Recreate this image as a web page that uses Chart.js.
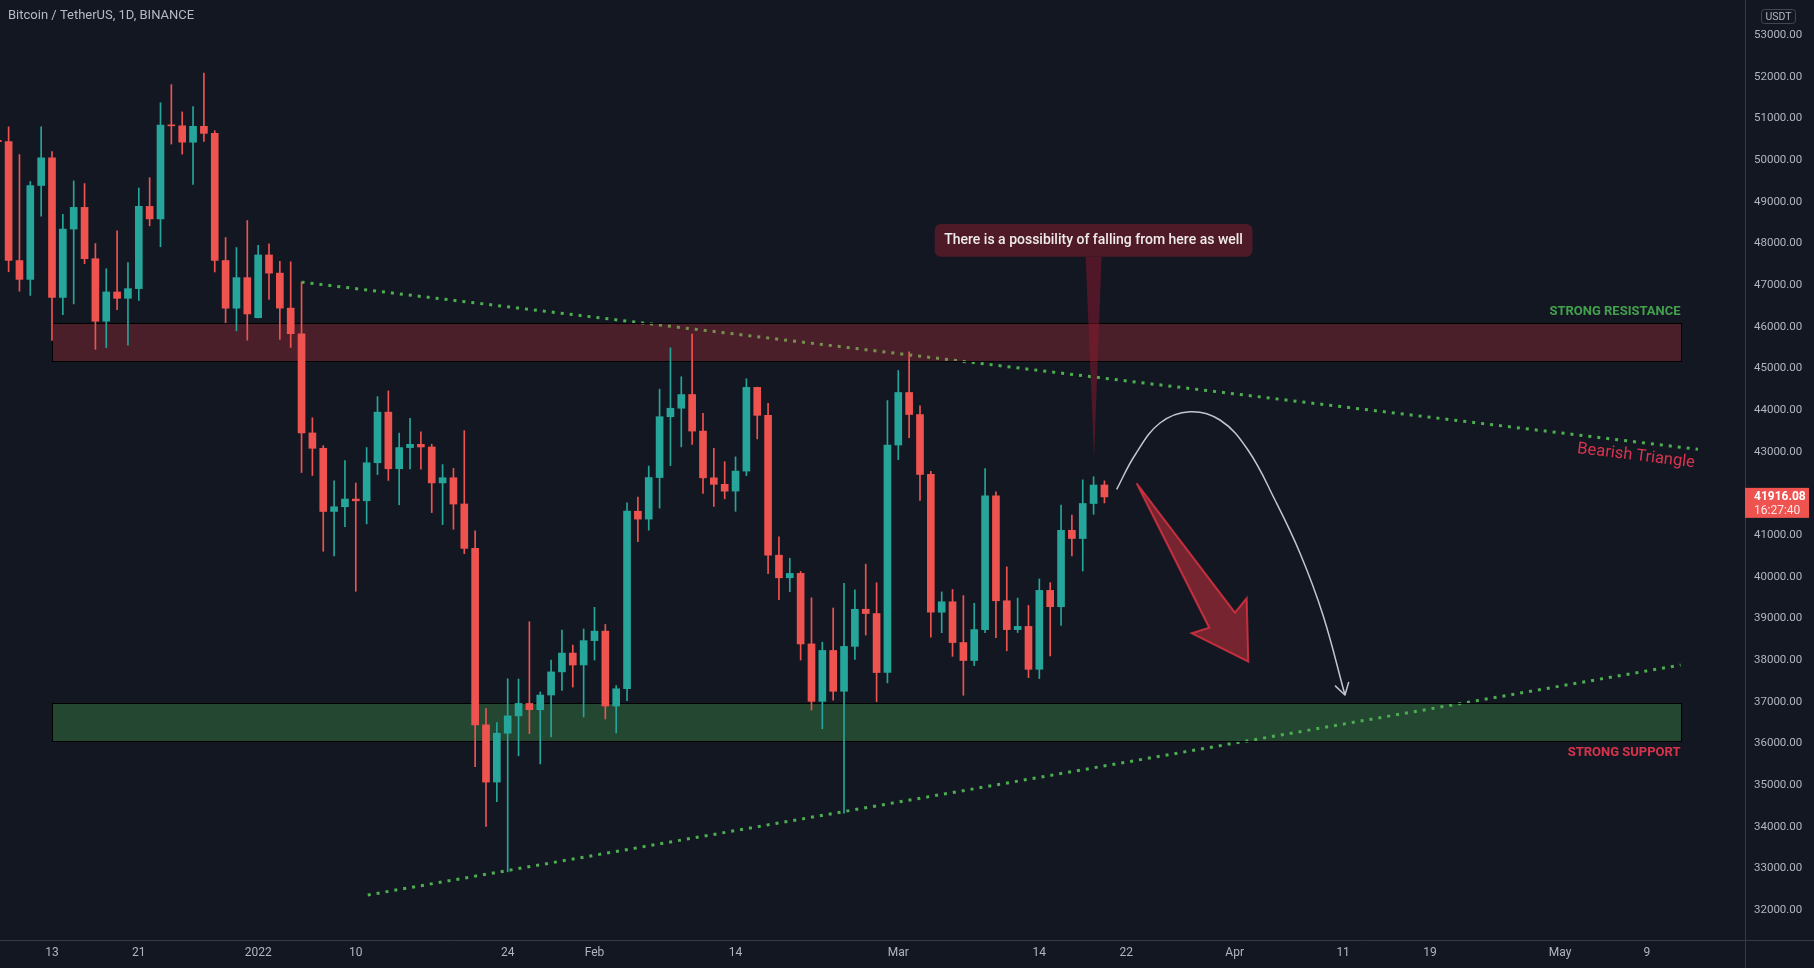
<!DOCTYPE html>
<html>
<head>
<meta charset="utf-8">
<script src="https://cdn.jsdelivr.net/npm/chart.js@4.4.1/dist/chart.umd.min.js"></script>
<style>
html,body{margin:0;padding:0;background:#131722;overflow:hidden;}
#wrap{width:1814px;height:968px;position:relative;}
canvas{display:block;}
</style>
</head>
<body>
<div id="wrap"><canvas id="c"></canvas></div>
<script>
// ---- Data (BTC/USDT daily) ----
const dates = ['2021-12-08','2021-12-09','2021-12-10','2021-12-11','2021-12-12','2021-12-13','2021-12-14','2021-12-15','2021-12-16','2021-12-17','2021-12-18','2021-12-19','2021-12-20','2021-12-21','2021-12-22','2021-12-23','2021-12-24','2021-12-25','2021-12-26','2021-12-27','2021-12-28','2021-12-29','2021-12-30','2021-12-31',
'2022-01-01','2022-01-02','2022-01-03','2022-01-04','2022-01-05','2022-01-06','2022-01-07','2022-01-08','2022-01-09','2022-01-10','2022-01-11','2022-01-12','2022-01-13','2022-01-14','2022-01-15','2022-01-16','2022-01-17','2022-01-18','2022-01-19','2022-01-20','2022-01-21','2022-01-22','2022-01-23','2022-01-24','2022-01-25','2022-01-26','2022-01-27','2022-01-28','2022-01-29','2022-01-30','2022-01-31',
'2022-02-01','2022-02-02','2022-02-03','2022-02-04','2022-02-05','2022-02-06','2022-02-07','2022-02-08','2022-02-09','2022-02-10','2022-02-11','2022-02-12','2022-02-13','2022-02-14','2022-02-15','2022-02-16','2022-02-17','2022-02-18','2022-02-19','2022-02-20','2022-02-21','2022-02-22','2022-02-23','2022-02-24','2022-02-25','2022-02-26','2022-02-27','2022-02-28',
'2022-03-01','2022-03-02','2022-03-03','2022-03-04','2022-03-05','2022-03-06','2022-03-07','2022-03-08','2022-03-09','2022-03-10','2022-03-11','2022-03-12','2022-03-13','2022-03-14','2022-03-15','2022-03-16','2022-03-17','2022-03-18','2022-03-19','2022-03-20'];
const opens = [50471,50441,47588,47136,49389,50053,46702,48343,48864,47632,46131,46834,46681,46914,48887,48588,50838,50821,50428,50809,50640,47588,46444,47178,
46217,47722,47286,46446,45832,43451,43082,41566,41679,41864,41822,42735,43949,42592,43099,43177,43113,42251,42375,41745,40680,36445,35071,36244,36660,36958,36808,37161,37716,38167,37882,
38466,38694,36896,37311,41571,41382,42380,43839,44043,44373,43495,42373,42217,42054,42535,44544,43873,40516,39974,40080,38387,37008,38230,37250,38328,39219,39116,37700,
43160,44421,43892,42455,39148,39398,38420,37989,38731,41941,39423,38730,38807,37778,39672,39280,41114,40917,41757,42201];
const highs = [51936,50797,50131,49485,50797,50205,48700,49500,49436,47995,47392,48300,47537,49328,49576,51375,51810,51156,51281,52088,50704,48140,47900,48548,
47954,47990,47570,47557,47070,43816,43145,42300,42786,42248,43100,44322,44459,43447,43800,43478,43180,42691,42600,43505,41100,36836,36499,37550,37545,38919,37234,38000,38720,38359,38744,
39265,38855,37387,41772,41913,42656,44500,45492,44799,45821,43920,43079,42760,42876,44751,44549,44164,40959,40444,40125,39494,38429,39249,39843,39683,40300,39855,44225,
44949,45400,44102,42527,39634,39693,39547,39362,42594,42039,40236,39486,39310,39947,39856,41718,41478,42325,42400,42300];
const lows = [48600,47320,46852,46751,48650,45672,46290,46547,47511,45456,45500,46406,45558,46630,48421,47920,50384,50142,49412,50449,47313,46096,45900,45678,
46208,46654,45696,45502,42500,42430,40610,40501,41200,39650,41268,42451,42311,41727,42588,42581,41540,41250,41138,40553,35440,34008,34601,32917,35701,36234,35507,36155,37268,37351,36633,
38000,36586,36250,37026,40843,41116,41645,42666,43117,43174,42000,41688,41870,41570,42427,43307,40073,39450,39639,38000,36800,36350,37036,34322,38014,38600,37000,37450,
42809,43335,41832,38550,38656,38088,37155,37867,38657,38539,38223,38660,37578,37555,38098,38828,40500,40135,41499,41770];
const closes = [50441,47588,47136,49389,50053,46702,48343,48864,47632,46131,46834,46681,46914,48889,48588,50838,50821,50429,50809,50640,47588,46444,47178,46306,
47722,47286,46446,45832,43451,43082,41566,41679,41864,41822,42735,43949,42591,43099,43177,43113,42251,42375,41744,40680,36445,35071,36244,36660,36958,36809,37160,37716,38166,37881,38466,
38694,36896,37311,41574,41382,42380,43840,44043,44372,43495,42373,42217,42053,42535,44544,43873,40515,39974,40079,38386,37008,38230,37250,38327,39219,39116,37700,43160,
44421,43893,42454,39148,39398,38420,37989,38731,41941,39423,38730,38807,37777,39671,39280,41114,40917,41757,42201,41916];

const tickDates  = ['2021-12-13','2021-12-21','2022-01-01','2022-01-10','2022-01-24','2022-02-01','2022-02-14','2022-03-01','2022-03-14','2022-03-22','2022-04-01','2022-04-11','2022-04-19','2022-05-01','2022-05-09'];
const tickLabels = ['13','21','2022','10','24','Feb','14','Mar','14','22','Apr','11','19','May','9'];
const priceTicks = [32000,33000,34000,35000,36000,37000,38000,39000,40000,41000,42000,43000,44000,45000,46000,47000,48000,49000,50000,51000,52000,53000];

const lastPrice = 41916.08;
const countdown = '16:27:40';
const titleText = 'Bitcoin / TetherUS, 1D, BINANCE';
const currencyText = 'USDT';

// Drawings (in day offsets from 2021-12-13 and prices)
const resistanceZone = {from: 0, to: 150.1, low: 45184, high: 46082, label: 'STRONG RESISTANCE'};
const supportZone    = {from: 0, to: 150.1, low: 36057, high: 36962, label: 'STRONG SUPPORT'};
const resistanceLineDays = [23, 151.7];
const resistanceLinePrices = [47070, 43057];
const supportLineDays = [29.1, 150.1];
const supportLinePrices = [32361, 37881];
const pathDays   = [98.13, 99.82, 102.12, 104.88, 107.65, 110.23, 112.72, 115.02, 117.14, 119.17];
const pathPrices = [42098, 42921, 43689, 43960, 43761, 43041, 41841, 40569, 39081, 37161];
const arrowDays   = [99.97, 106.66, 105.04, 110.26, 110.11, 109.03];
const arrowPrices = [42242, 38776, 38642, 37960, 39482, 39136];
const calloutText = 'There is a possibility of falling from here as well';
const calloutTip = {day: 96.0, price: 42846};
const calloutBox = {top: 48465, bottom: 47680};
const triangleLabel = {text: 'Bearish Triangle', day: 146.0, price: 42897};

// ---- helpers ----
const DAY0 = Date.parse('2021-12-13T00:00:00Z');
const dayOf = s => (Date.parse(s + 'T00:00:00Z') - DAY0) / 86400000;
const days = dates.map(dayOf);
const tickDays = tickDates.map(dayOf);

const UP = '#26a69a', DOWN = '#ef5350';
const candleColor = i => closes[i] >= opens[i] ? UP : DOWN;

const wickData = days.map((d, i) => ({x: d, y: [lows[i], highs[i]]}));
const bodyData = days.map((d, i) => ({x: d, y: [opens[i], closes[i]]}));

Chart.defaults.font.family = 'Roboto, "Noto Sans", sans-serif';

const annot = {
  id: 'annot',
  afterDatasetDraw(chart, args) {
    if (args.index !== 2) return; // after trend lines, before candles
    const {ctx, chartArea: a, scales: {x, y}} = chart;
    ctx.save();
    ctx.beginPath(); ctx.rect(a.left, a.top, a.right - a.left, a.bottom - a.top); ctx.clip();
    const zone = (z, fill) => {
      const x0 = Math.round(x.getPixelForValue(z.from)) + 0.5, x1 = Math.round(x.getPixelForValue(z.to)) + 0.5;
      const y0 = Math.round(y.getPixelForValue(z.high)) + 0.5, y1 = Math.round(y.getPixelForValue(z.low)) + 0.5;
      ctx.fillStyle = fill;
      ctx.fillRect(x0, y0, x1 - x0, y1 - y0);
      ctx.strokeStyle = '#000000'; ctx.lineWidth = 1;
      ctx.strokeRect(x0, y0, x1 - x0, y1 - y0);
    };
    zone(resistanceZone, 'rgba(242,54,69,0.25)');
    zone(supportZone, 'rgba(76,175,80,0.32)');
    ctx.restore();
  },
  afterDatasetsDraw(chart) {
    const {ctx, chartArea: a, scales: {x, y}} = chart;
    ctx.save();
    ctx.beginPath(); ctx.rect(a.left, a.top, a.right - a.left, a.bottom - a.top); ctx.clip();

    // zone labels
    ctx.font = 'bold 13px Roboto';
    ctx.textAlign = 'right'; ctx.textBaseline = 'middle';
    ctx.fillStyle = '#43a04c';
    ctx.fillText(resistanceZone.label, x.getPixelForValue(resistanceZone.to), y.getPixelForValue(resistanceZone.high) - 12);
    ctx.fillStyle = '#d8334d';
    ctx.fillText(supportZone.label, x.getPixelForValue(supportZone.to), y.getPixelForValue(supportZone.low) + 12);

    // bearish triangle label
    ctx.save();
    ctx.translate(x.getPixelForValue(triangleLabel.day), y.getPixelForValue(triangleLabel.price));
    ctx.rotate(7 * Math.PI / 180);
    ctx.font = '16.5px Roboto';
    ctx.textAlign = 'center';
    ctx.fillStyle = '#d9344f';
    ctx.fillText(triangleLabel.text, 0, 0);
    ctx.restore();

    // big red arrow
    ctx.beginPath();
    arrowDays.forEach((d, i) => {
      const px = x.getPixelForValue(d), py = y.getPixelForValue(arrowPrices[i]);
      i ? ctx.lineTo(px, py) : ctx.moveTo(px, py);
    });
    ctx.closePath();
    ctx.fillStyle = 'rgba(242,54,69,0.45)';
    ctx.fill();
    ctx.strokeStyle = 'rgba(242,54,69,0.72)';
    ctx.lineWidth = 2; ctx.lineJoin = 'miter';
    ctx.stroke();

    // arrowhead of the curved path
    const n = pathDays.length;
    const tx = x.getPixelForValue(pathDays[n - 1]), ty = y.getPixelForValue(pathPrices[n - 1]);
    const qx = x.getPixelForValue(pathDays[n - 2]), qy = y.getPixelForValue(pathPrices[n - 2]);
    const ang = Math.atan2(ty - qy, tx - qx);
    ctx.strokeStyle = '#c3c6ce'; ctx.lineWidth = 1.5; ctx.lineCap = 'round';
    ctx.beginPath();
    for (const s of [-1, 1]) {
      const aa = ang + Math.PI + s * 0.55;
      ctx.moveTo(tx, ty);
      ctx.lineTo(tx + 13 * Math.cos(aa), ty + 13 * Math.sin(aa));
    }
    ctx.stroke();

    // callout
    const cx = x.getPixelForValue(calloutTip.day), cy = y.getPixelForValue(calloutTip.price);
    const bt = y.getPixelForValue(calloutBox.top), bb = y.getPixelForValue(calloutBox.bottom);
    ctx.font = '500 14px Roboto';
    const tw = ctx.measureText(calloutText).width;
    const bw = tw + 19;
    ctx.fillStyle = 'rgba(140,24,44,0.5)';
    ctx.beginPath();
    ctx.moveTo(cx - 8, bb); ctx.lineTo(cx + 8, bb); ctx.lineTo(cx + 0.5, cy); ctx.closePath();
    ctx.fill();
    ctx.fillStyle = '#4e1a27';
    ctx.beginPath();
    ctx.roundRect(cx - bw / 2, bt, bw, bb - bt, 6);
    ctx.fill();
    ctx.fillStyle = '#f0eced';
    ctx.textAlign = 'center'; ctx.textBaseline = 'middle';
    ctx.fillText(calloutText, cx, (bt + bb) / 2 + 0.5);
    ctx.restore();
  },
  afterDraw(chart) {
    const {ctx, chartArea: a, scales: {y}} = chart;
    const W = chart.width, H = chart.height;
    ctx.save();
    // borders
    ctx.strokeStyle = '#363a45'; ctx.lineWidth = 1;
    ctx.beginPath();
    ctx.moveTo(0, Math.round(a.bottom) + 0.5); ctx.lineTo(W, Math.round(a.bottom) + 0.5);
    ctx.moveTo(Math.round(a.right) + 0.5, 0); ctx.lineTo(Math.round(a.right) + 0.5, H);
    ctx.stroke();
    // title
    ctx.font = '13px Roboto';
    ctx.fillStyle = '#b7bac2';
    ctx.textAlign = 'left'; ctx.textBaseline = 'middle';
    ctx.fillText(titleText, 8, 16);
    // currency badge
    ctx.strokeStyle = '#434651';
    ctx.beginPath(); ctx.roundRect(a.right + 16.5, 9.5, 34, 14, 3); ctx.stroke();
    ctx.font = '10.5px Roboto'; ctx.fillStyle = '#b2b5be'; ctx.textAlign = 'center';
    ctx.fillText(currencyText, a.right + 33.5, 17);
    // last price box
    const py = y.getPixelForValue(lastPrice);
    ctx.fillStyle = '#ef5350';
    ctx.fillRect(a.right, py - 9, 64, 30);
    ctx.textAlign = 'left';
    ctx.fillStyle = '#ffffff';
    ctx.font = 'bold 12px Roboto';
    ctx.fillText(lastPrice.toFixed(2), a.right + 9, py + 0.5);
    ctx.font = '12px Roboto';
    ctx.fillStyle = 'rgba(255,255,255,0.85)';
    ctx.fillText(countdown, a.right + 9, py + 14.5);
    ctx.restore();
  }
};

new Chart(document.getElementById('c'), {
  type: 'bar',
  data: {
    datasets: [
      {label: 'wicks', data: wickData, backgroundColor: ctx => candleColor(ctx.dataIndex), grouped: false,
       categoryPercentage: 1, barPercentage: 1, maxBarThickness: 1, order: 1},
      {label: 'bodies', data: bodyData, backgroundColor: ctx => candleColor(ctx.dataIndex), grouped: false,
       categoryPercentage: 1, barPercentage: 1, maxBarThickness: 7, minBarLength: 1, order: 0},
      {type: 'line', label: 'resistance trend', data: resistanceLineDays.map((d, i) => ({x: d, y: resistanceLinePrices[i]})),
       borderColor: '#4caf50', borderWidth: 3, borderDash: [3, 6], pointRadius: 0, fill: false, order: 3},
      {type: 'line', label: 'support trend', data: supportLineDays.map((d, i) => ({x: d, y: supportLinePrices[i]})),
       borderColor: '#4caf50', borderWidth: 3, borderDash: [3, 6], pointRadius: 0, fill: false, order: 4},
      {type: 'line', label: 'path', data: pathDays.map((d, i) => ({x: d, y: pathPrices[i]})),
       borderColor: '#c3c6ce', borderWidth: 1.5, pointRadius: 0, fill: false, tension: 0.4, order: 2}
    ]
  },
  options: {
    responsive: true,
    maintainAspectRatio: false,
    animation: false,
    layout: {padding: 0},
    plugins: {legend: {display: false}, tooltip: {enabled: false}},
    scales: {
      x: {
        type: 'linear', position: 'bottom', offset: false,
        min: -4.793, max: 156.04,
        grid: {display: false, drawTicks: false},
        border: {display: false},
        afterBuildTicks: s => { s.ticks = tickDays.map(v => ({value: v})); },
        afterFit: s => { s.height = 28; s.paddingLeft = 0; s.paddingRight = 0; },
        ticks: {autoSkip: false, maxRotation: 0, padding: 6, color: '#b2b5be', font: {size: 12},
                callback: (v, i) => tickLabels[i]}
      },
      y: {
        type: 'linear', position: 'right',
        min: 31281, max: 53841,
        grid: {display: false, drawTicks: false},
        border: {display: false},
        afterBuildTicks: s => { s.ticks = priceTicks.map(v => ({value: v})); },
        afterFit: s => { s.width = 69; s.paddingTop = 0; s.paddingBottom = 0; },
        ticks: {padding: 9, color: '#b2b5be', font: {size: 11.5}, callback: v => Number(v).toFixed(2)}
      }
    }
  },
  plugins: [annot]
});
</script>
</body>
</html>
